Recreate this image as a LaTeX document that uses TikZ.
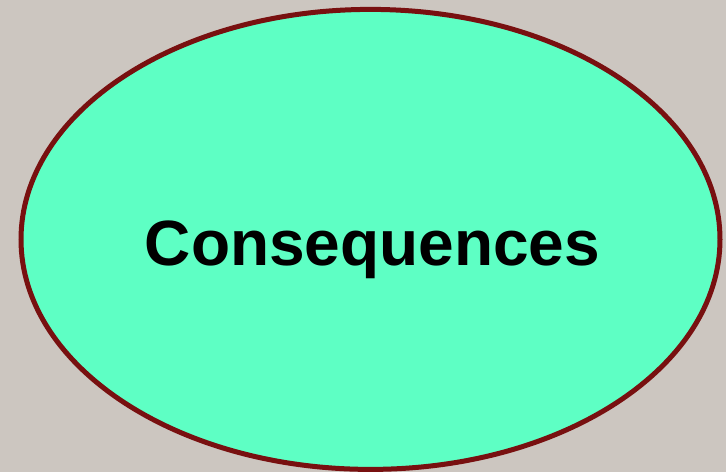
\documentclass[tikz,border=0pt]{standalone}
\usepackage{fontspec}
\setmainfont{Liberation Sans}
\definecolor{bgc}{RGB}{204,198,192}
\definecolor{fillc}{RGB}{94,255,196}
\definecolor{linec}{RGB}{120,16,16}
\tikzset{
  bubble/.style={draw=linec, fill=fillc, line width=5pt},
  label/.style={font=\fontsize{64}{70}\selectfont\bfseries, text=black, inner sep=0pt}
}
\begin{document}
\begin{tikzpicture}[x=1pt,y=1pt]
\fill[bgc] (0,0) rectangle (726,472);
\useasboundingbox (0,0) rectangle (726,472);
\draw[bubble] (370.5,232.6) ellipse [x radius=349.5, y radius=230];
\node[label, anchor=base] (t) at (372.5,207) {Consequences};
\end{tikzpicture}
\end{document}
